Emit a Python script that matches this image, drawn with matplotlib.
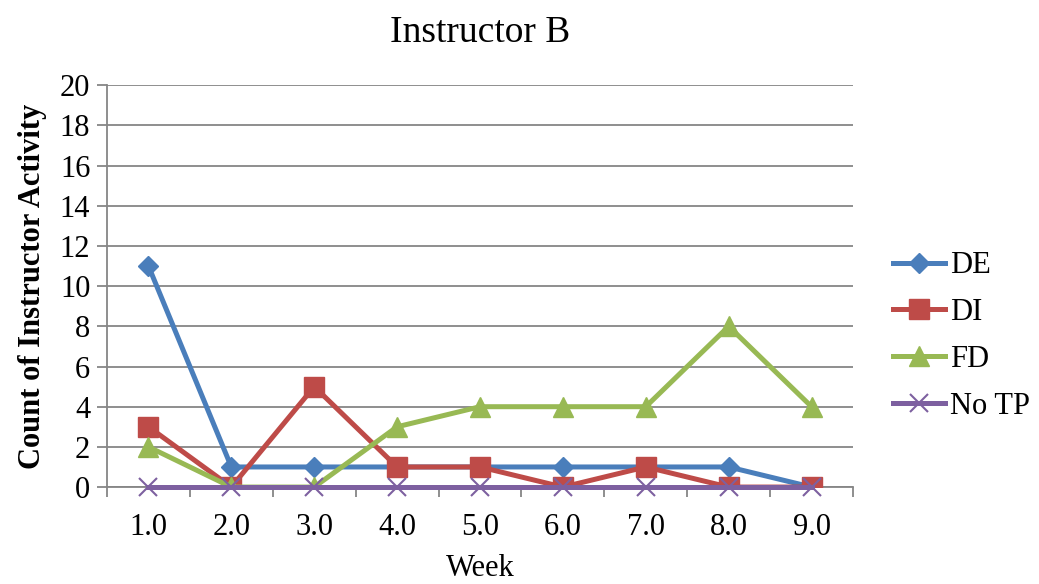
import numpy as np
import matplotlib.pyplot as plt

# data
weeks = [1, 2, 3, 4, 5, 6, 7, 8, 9]
week_labels = ['1.0', '2.0', '3.0', '4.0', '5.0', '6.0', '7.0', '8.0', '9.0']
de = [11, 1, 1, 1, 1, 1, 1, 1, 0]
di = [3, 0, 5, 1, 1, 0, 1, 0, 0]
fd = [2, 0, 0, 3, 4, 4, 4, 8, 4]
no_tp = [0, 0, 0, 0, 0, 0, 0, 0, 0]

plt.rcParams['font.family'] = ['Liberation Serif', 'DejaVu Serif']

fig = plt.figure(figsize=(10.39, 5.84), dpi=100)
ax = fig.add_axes([0.103, 0.166, 0.718, 0.688])

ax.plot(weeks, de, color='#4A7EBB', lw=3.6, marker='D', ms=10, label='DE', zorder=3)
ax.plot(weeks, di, color='#BE4B48', lw=3.6, marker='s', ms=14, label='DI', zorder=4)
ax.plot(weeks, fd, color='#98B954', lw=3.6, marker='^', ms=14, label='FD', zorder=5)
ax.plot(weeks, no_tp, color='#7D60A0', lw=3.6, marker='x', ms=13, mew=1.5,
        label='No TP', zorder=6, clip_on=False)

ax.set_xlim(0.5, 9.5)
ax.set_ylim(0, 20)
ax.set_yticks(np.arange(0, 21, 2))
ax.yaxis.grid(True, color='#868686', lw=1.3)
ax.set_axisbelow(True)

# category axis: tick marks between categories, labels at centres
ax.set_xticks(np.arange(0.5, 10, 1))
ax.set_xticklabels([])
ax.set_xticks(weeks, minor=True)
ax.set_xticklabels(week_labels, minor=True)
ax.tick_params(axis='x', which='major', length=7, color='#868686', width=1.3)
ax.tick_params(axis='x', which='minor', length=0, labelsize=22, pad=19)
ax.tick_params(axis='y', length=7, color='#868686', width=1.3, labelsize=22, pad=5)

for s in ['top', 'right']:
    ax.spines[s].set_visible(False)
ax.spines['left'].set_color('#868686')
ax.spines['left'].set_linewidth(1.3)
ax.spines['bottom'].set_color('#868686')
ax.spines['bottom'].set_linewidth(1.3)

ax.set_title('Instructor B', fontsize=27, pad=31)
ax.set_xlabel('Week', fontsize=22, labelpad=8)
ax.set_ylabel('Count of Instructor Activity', fontsize=22, fontweight='bold', labelpad=9)

ax.legend(loc='center left', bbox_to_anchor=(878 / 1039, 1 - 336 / 584),
          bbox_transform=fig.transFigure, frameon=False, borderpad=0,
          fontsize=22, handlelength=1.7, labelspacing=0.58, handletextpad=0.15)

fig.savefig('out.png', dpi=100)
